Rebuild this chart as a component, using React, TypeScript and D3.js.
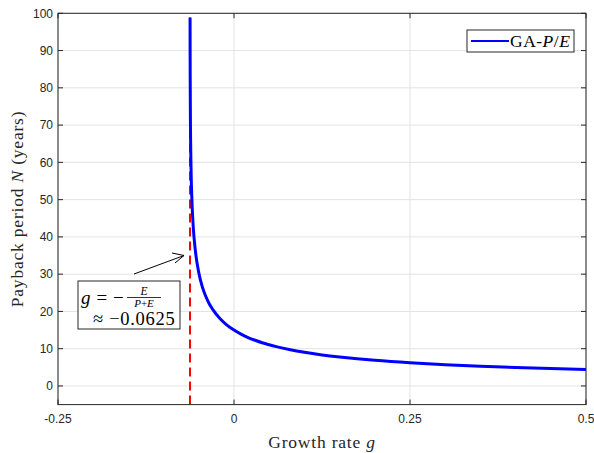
import React from "react";
import * as d3 from "d3";

const growthRates = [-0.0624, -0.0623, -0.0622, -0.062, -0.061, -0.06, -0.058, -0.055, -0.05, -0.045, -0.04, -0.035, -0.03, -0.02, -0.01, 0, 0.01, 0.02, 0.03, 0.04, 0.05, 0.06, 0.08, 0.1, 0.125, 0.15, 0.175, 0.2, 0.25, 0.3, 0.35, 0.4, 0.45, 0.5];
const paybackYears = [98.9, 88.3, 82.1, 74.4, 58.3, 51.0, 43.0, 36.5, 30.4, 26.6, 24.0, 22.0, 20.5, 18.1, 16.35, 15.0, 13.9, 13.0, 12.26, 11.6, 11.05, 10.55, 9.71, 9.03, 8.33, 7.76, 7.28, 6.87, 6.21, 5.7, 5.29, 4.95, 4.66, 4.42];
const asymptoteG = -0.0625;
const xTicks = [-0.25, 0, 0.25, 0.5];
const xTickLabels = ["-0.25", "0", "0.25", "0.5"];
const yTicks = [0, 10, 20, 30, 40, 50, 60, 70, 80, 90, 100];
const asymptoteLabel = "≈ −0.0625";

export default function App() {
  const W = 594, H = 453;
  const x = d3.scaleLinear().domain([-0.25, 0.5]).range([58, 586]);
  const y = d3.scaleLinear().domain([-5, 100]).range([404.6, 13.3]);
  const pts = growthRates.map((g, i) => [g, paybackYears[i]] as [number, number]);
  const line = d3.line<[number, number]>().x(d => x(d[0])).y(d => y(d[1])).curve(d3.curveMonotoneX);
  const [x0, x1] = x.range();
  const [y0, y1] = y.range();
  const tickFont = "Liberation Sans, Arial, sans-serif";
  const serif = "Liberation Serif, 'DejaVu Serif', serif";
  const ax = x(asymptoteG);
  return (
    <svg width={W} height={H} style={{ position: "absolute", left: 0, top: 0, background: "#fff" }}>
      <rect x={0} y={0} width={W} height={H} fill="#fff" />
      {/* grid */}
      {xTicks.map((t, i) => (
        <line key={"gx" + i} x1={x(t)} x2={x(t)} y1={y0} y2={y1} stroke="#e3e3e3" strokeWidth={1} />
      ))}
      {yTicks.map((t, i) => (
        <line key={"gy" + i} x1={x0} x2={x1} y1={y(t)} y2={y(t)} stroke="#e3e3e3" strokeWidth={1} />
      ))}
      {/* asymptote */}
      <line x1={ax} x2={ax} y1={y0} y2={y(99.2)} stroke="#ff0000" strokeWidth={2} strokeDasharray="9,5" />
      {/* curve */}
      <path d={line(pts) || ""} fill="none" stroke="#0000ff" strokeWidth={3} strokeLinejoin="round" />
      {/* box */}
      <rect x={x0} y={y1} width={x1 - x0} height={y0 - y1} fill="none" stroke="#262626" strokeWidth={1} />
      {/* ticks */}
      {xTicks.map((t, i) => (
        <g key={"tx" + i}>
          <line x1={x(t)} x2={x(t)} y1={y0} y2={y0 - 5} stroke="#262626" />
          <line x1={x(t)} x2={x(t)} y1={y1} y2={y1 + 5} stroke="#262626" />
          <text x={x(t)} y={y0 + 18.5} textAnchor="middle" fontFamily={tickFont} fontSize={12} fill="#262626">{xTickLabels[i]}</text>
        </g>
      ))}
      {yTicks.map((t, i) => (
        <g key={"ty" + i}>
          <line x1={x0} x2={x0 + 5} y1={y(t)} y2={y(t)} stroke="#262626" />
          <line x1={x1} x2={x1 - 5} y1={y(t)} y2={y(t)} stroke="#262626" />
          <text x={x0 - 5} y={y(t) + 4.2} textAnchor="end" fontFamily={tickFont} fontSize={12} fill="#262626">{t}</text>
        </g>
      ))}
      {/* axis labels */}
      <text x={(x0 + x1) / 2} y={448} textAnchor="middle" fontFamily={serif} fontSize={17.5} letterSpacing={0.8} fill="#262626">
        Growth rate <tspan fontStyle="italic">g</tspan>
      </text>
      <text transform={`translate(23,${(y0 + y1) / 2}) rotate(-90)`} textAnchor="middle" fontFamily={serif} fontSize={17.5} letterSpacing={0.8} fill="#262626">
        Payback period <tspan fontStyle="italic">N</tspan> (years)
      </text>
      {/* legend */}
      <rect x={467} y={30} width={107} height={22} fill="#fff" stroke="#262626" strokeWidth={1} />
      <line x1={471} x2={509} y1={41} y2={41} stroke="#0000ff" strokeWidth={2} />
      <text x={510} y={47} fontFamily={serif} fontSize={17.5} letterSpacing={0.5} fill="#000">
        GA-<tspan fontStyle="italic">P</tspan>/<tspan fontStyle="italic">E</tspan>
      </text>
      {/* annotation */}
      <line x1={134} y1={274} x2={184} y2={255.5} stroke="#000" strokeWidth={1} />
      <polyline points="172,253 184,255.5 175,263" fill="none" stroke="#000" strokeWidth={1} />
      <rect x={78} y={281} width={102} height={48} fill="#fff" stroke="#262626" strokeWidth={1} />
      <text x={81} y={303.5} fontFamily={serif} fontSize={19} letterSpacing={0.6} fill="#000">
        <tspan fontStyle="italic">g</tspan> = −
      </text>
      <text x={144} y={294.5} textAnchor="middle" fontFamily={serif} fontSize={11.5} fontStyle="italic" fill="#000">E</text>
      <line x1={127} x2={161} y1={297.5} y2={297.5} stroke="#000" strokeWidth={0.8} />
      <text x={144} y={306.5} textAnchor="middle" fontFamily={serif} fontSize={11} fill="#000">
        <tspan fontStyle="italic">P</tspan>+<tspan fontStyle="italic">E</tspan>
      </text>
      <text x={93} y={324.5} fontFamily={serif} fontSize={18.5} letterSpacing={0.7} fill="#000">{asymptoteLabel}</text>
    </svg>
  );
}
